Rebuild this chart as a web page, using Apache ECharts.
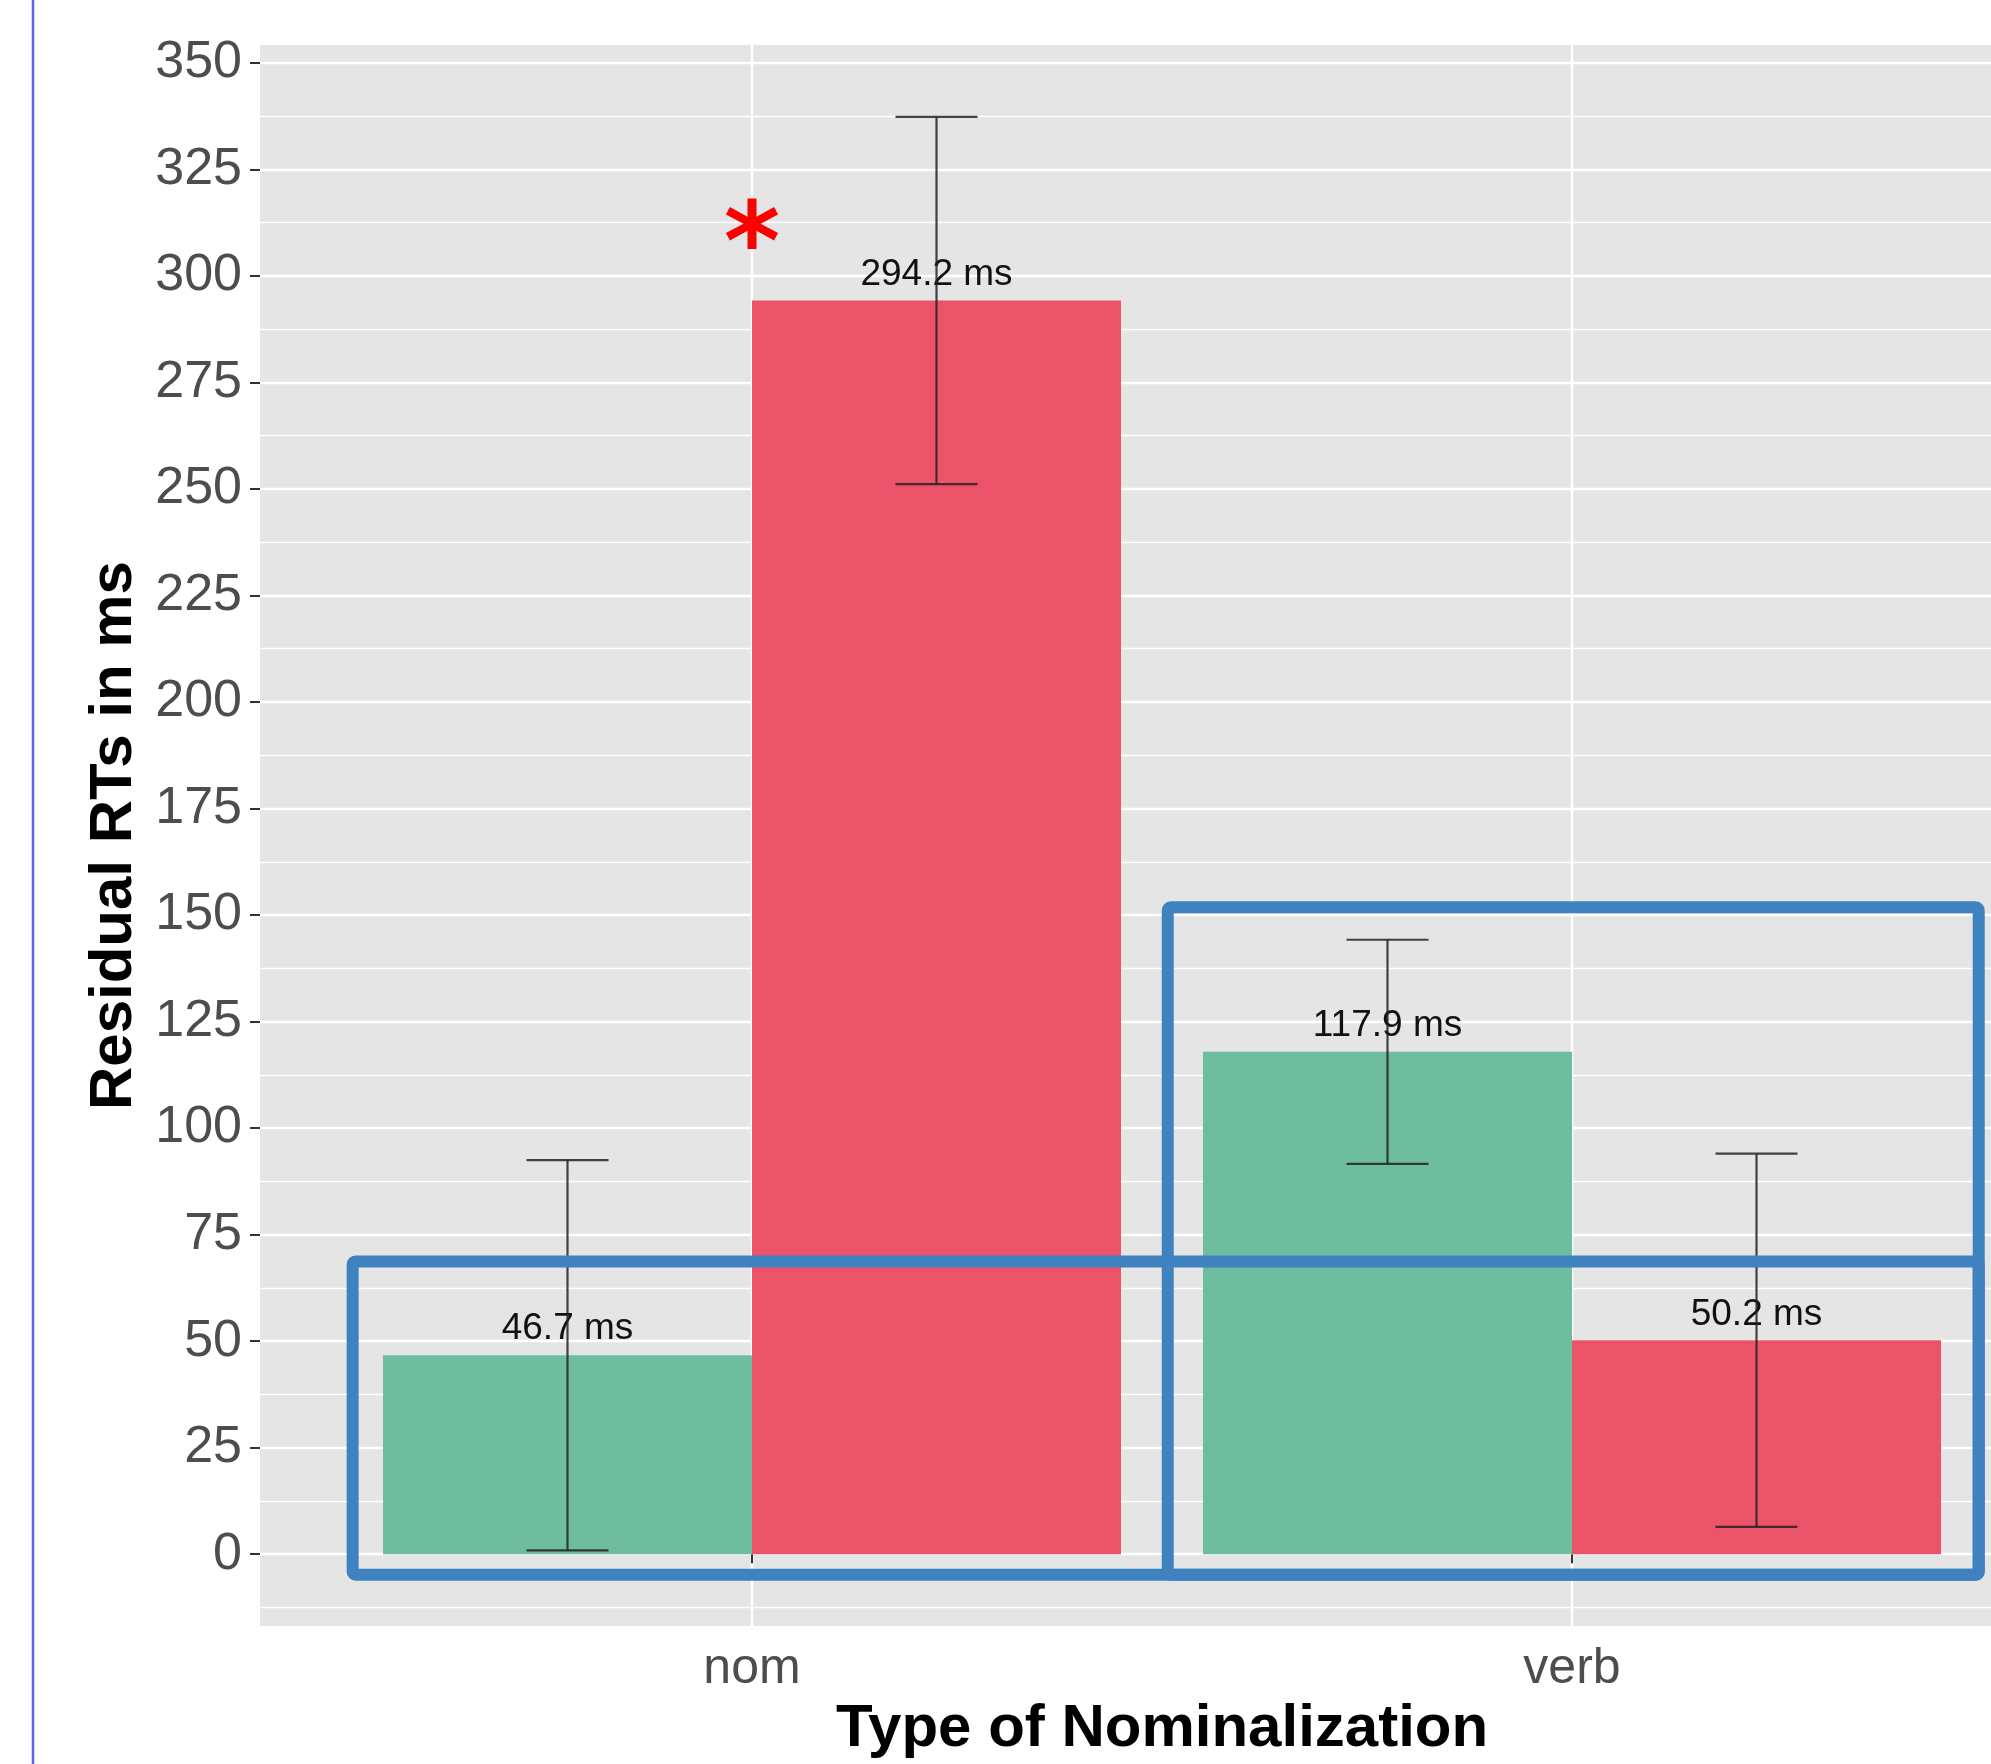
<!DOCTYPE html>
<html><head><meta charset="utf-8">
<script src="https://cdn.jsdelivr.net/npm/echarts@6/dist/echarts.min.js"></script>
<style>html,body{margin:0;padding:0;background:#fff;overflow:hidden;width:1991px;height:1764px}#chart{width:2100px;height:1764px}</style>
</head><body><div id="chart"></div>
<script>
// ---- data ----
const categories = ['nom', 'verb'];
const greenMeans = [46.7, 117.9];
const greenErrors = [45.8, 26.3];
const redMeans = [294.2, 50.2];
const redErrors = [43.1, 43.8];
const yTickValues = [0, 25, 50, 75, 100, 125, 150, 175, 200, 225, 250, 275, 300, 325, 350];
const yMinorValues = [-12.5, 12.5, 37.5, 62.5, 87.5, 112.5, 137.5, 162.5, 187.5, 212.5, 237.5, 262.5, 287.5, 312.5, 337.5];
const yAxisTitle = 'Residual RTs in ms';
const xAxisTitle = 'Type of Nominalization';
const significanceMark = [1, 311];            // red asterisk over "nom"
const highlightBoxes = [                       // [x0, yTop, x1, yBottom] in data units
  [0.513, 68.7, 2.496, -4.8],
  [1.507, 151.8, 2.496, -4.8]
];

// ---- styles ----
const FONT = 'Liberation Sans';
const GREEN = '#6EBD9F', RED = '#EA5368';
const BAR_W = 0.45;     // each dodged bar (dodge width 0.9)
const CAP_HALF = 0.05;

const dataMax = Math.max(...greenMeans.map((m, i) => m + greenErrors[i]), ...redMeans.map((m, i) => m + redErrors[i]));
const yMin = -0.05 * dataMax, yMax = 1.05 * dataMax;

const barData = [];
greenMeans.forEach((m, i) => barData.push([i + 1, m, greenErrors[i], 0]));
redMeans.forEach((m, i) => barData.push([i + 1, m, redErrors[i], 1]));

function barCenter(api) { return api.value(0) + (api.value(3) === 0 ? -BAR_W / 2 : BAR_W / 2); }

const chart = echarts.init(document.getElementById('chart'), null, {renderer: 'canvas'});
chart.setOption({
  animation: false,
  backgroundColor: '#ffffff',
  textStyle: {fontFamily: FONT},
  grid: {left: 260, top: 45, width: 1804, height: 1591, show: true, backgroundColor: '#E5E5E5', borderWidth: 0},
  xAxis: {
    type: 'value', min: 0.4, max: 2.6,
    axisLine: {show: false},
    axisTick: {show: true, customValues: [1, 2], length: 9, lineStyle: {color: '#333333', width: 2}},
    axisLabel: {customValues: [1, 2], formatter: v => categories[Math.round(v) - 1], fontSize: 50, color: '#4D4D4D', margin: 18, fontFamily: FONT},
    splitLine: {show: true, lineStyle: {color: '#ffffff', width: 2.4}},
    name: xAxisTitle, nameLocation: 'middle', nameGap: 72,
    nameTextStyle: {fontSize: 60, fontWeight: 'bold', color: '#000000', fontFamily: FONT}
  },
  yAxis: [{
    type: 'value', min: yMin, max: yMax,
    axisLine: {show: false},
    axisTick: {show: true, customValues: yTickValues, length: 10, lineStyle: {color: '#333333', width: 2}},
    axisLabel: {customValues: yTickValues, fontSize: 52, color: '#4D4D4D', margin: 18, fontFamily: FONT},
    splitLine: {show: true, lineStyle: {color: '#ffffff', width: 2.4}},
    name: yAxisTitle, nameLocation: 'middle', nameGap: 107,
    nameTextStyle: {fontSize: 60, fontWeight: 'bold', color: '#000000', fontFamily: FONT}
  }, {
    type: 'value', min: yMin, max: yMax, position: 'right',
    axisLine: {show: false},
    axisTick: {show: false, customValues: yMinorValues},
    axisLabel: {show: false},
    splitLine: {show: true, lineStyle: {color: '#ffffff', width: 1.4}}
  }],
  graphic: [{
    type: 'line', shape: {x1: 33, y1: 0, x2: 33, y2: 1764},
    style: {stroke: '#6262E4', lineWidth: 2.5}, z: 100
  }],
  series: [{
    type: 'custom', name: 'bars', z: 2, data: barData,
    renderItem(params, api) {
      const xc = barCenter(api);
      const tl = api.coord([xc - BAR_W / 2, api.value(1)]);
      const br = api.coord([xc + BAR_W / 2, 0]);
      return {type: 'rect', shape: {x: tl[0], y: tl[1], width: br[0] - tl[0], height: br[1] - tl[1]},
        style: {fill: api.value(3) === 0 ? GREEN : RED}};
    }
  }, {
    type: 'custom', name: 'labels', z: 3, data: barData,
    renderItem(params, api) {
      const xc = barCenter(api);
      const p = api.coord([xc, api.value(1)]);
      return {type: 'text', x: p[0], y: p[1] - 26,
        style: {text: api.value(1).toFixed(1) + ' ms', fontSize: 37, fontFamily: FONT, fill: '#111111',
          align: 'center', verticalAlign: 'middle'}};
    }
  }, {
    type: 'custom', name: 'errors', z: 4, data: barData,
    renderItem(params, api) {
      const xc = barCenter(api), m = api.value(1), e = api.value(2);
      const top = api.coord([xc, m + e]), bot = api.coord([xc, m - e]);
      const l = api.coord([xc - CAP_HALF, m])[0], r = api.coord([xc + CAP_HALF, m])[0];
      const st = {stroke: 'rgba(35,35,35,0.85)', lineWidth: 2.2};
      return {type: 'group', children: [
        {type: 'line', shape: {x1: top[0], y1: top[1], x2: bot[0], y2: bot[1]}, style: st},
        {type: 'line', shape: {x1: l, y1: top[1], x2: r, y2: top[1]}, style: st},
        {type: 'line', shape: {x1: l, y1: bot[1], x2: r, y2: bot[1]}, style: st}
      ]};
    }
  }, {
    type: 'custom', name: 'significance', z: 5, data: [significanceMark],
    renderItem(params, api) {
      const p = api.coord([api.value(0), api.value(1)]);
      const fs = 108;
      return {type: 'text', x: p[0], y: p[1] + 0.2 * fs,
        style: {text: '*', fontSize: fs, fontWeight: 'bold', fontFamily: 'DejaVu Sans', fill: '#FF0000', align: 'center', verticalAlign: 'middle'}};
    }
  }, {
    type: 'custom', name: 'highlight', z: 6, data: highlightBoxes,
    renderItem(params, api) {
      const a = api.coord([api.value(0), api.value(1)]);
      const b = api.coord([api.value(2), api.value(3)]);
      return {type: 'rect', shape: {x: a[0], y: a[1], width: b[0] - a[0], height: b[1] - a[1], r: 3},
        style: {fill: 'none', stroke: '#3F82C0', lineWidth: 12, lineJoin: 'round'}};
    }
  }]
});
</script>
</body></html>
